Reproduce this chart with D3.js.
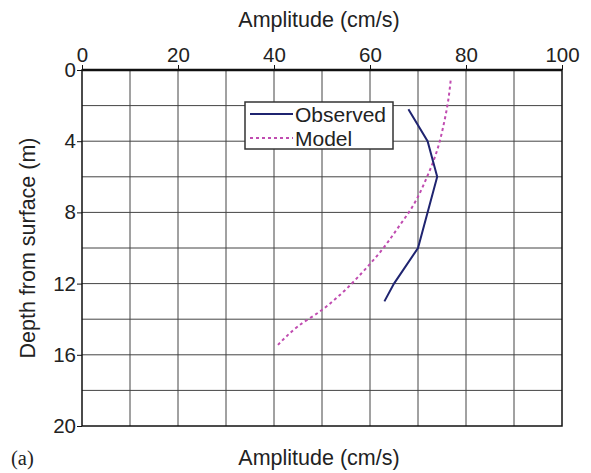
<!DOCTYPE html>
<html>
<head>
<meta charset="utf-8">
<script src="https://cdn.jsdelivr.net/npm/d3@7"></script>
<style>
  body { margin: 0; background: #fff; }
  text { font-family: "Liberation Sans", Arial, sans-serif; fill: #222; }
</style>
</head>
<body>
<svg id="chart"></svg>
<script>
const width = 591;
const height = 473;

// amplitude (cm/s) vs depth (m)
const observedAmp = [68, 72, 74, 70, 65, 63];
const observedDepth = [2.2, 4, 6, 10, 12, 13];
const modelAmp = [76.8, 76.3, 75.4, 74, 71.9, 68.8, 66, 62.5, 58.3, 54.1, 49.9, 45, 40.8];
const modelDepth = [0.6, 1.7, 3.0, 4.5, 6, 7.7, 8.8, 10.1, 11.4, 12.55, 13.5, 14.4, 15.45];
const xTicks = [0, 20, 40, 60, 80, 100];
const yTicks = [0, 4, 8, 12, 16, 20];
const seriesNames = ["Observed", "Model"];

const svg = d3.select("#chart").attr("width", width).attr("height", height);

const x = d3.scaleLinear().domain([0, 100]).range([82, 562]);
const y = d3.scaleLinear().domain([0, 20]).range([70, 426]);

// grid
const grid = svg.append("g");
grid.selectAll(".vg")
  .data(d3.range(10, 100, 10))
  .enter().append("line")
  .attr("x1", d => x(d)).attr("x2", d => x(d))
  .attr("y1", y(0)).attr("y2", y(20))
  .attr("stroke", "#444").attr("stroke-width", 1);
grid.selectAll(".hg")
  .data(d3.range(2, 20, 2))
  .enter().append("line")
  .attr("x1", x(0)).attr("x2", x(100))
  .attr("y1", d => y(d)).attr("y2", d => y(d))
  .attr("stroke", "#444").attr("stroke-width", 1);

// frame
svg.append("rect")
  .attr("x", x(0)).attr("y", y(0))
  .attr("width", x(100) - x(0)).attr("height", y(20) - y(0))
  .attr("fill", "none").attr("stroke", "#111").attr("stroke-width", 1.5);
svg.append("line")
  .attr("x1", x(0)).attr("x2", x(100)).attr("y1", y(0)).attr("y2", y(0))
  .attr("stroke", "#111").attr("stroke-width", 2.5);

// axes
const topAxis = svg.append("g")
  .attr("transform", `translate(0,${y(0)})`)
  .call(d3.axisTop(x).tickValues(xTicks).tickSize(5).tickPadding(3));
const leftAxis = svg.append("g")
  .attr("transform", `translate(${x(0)},0)`)
  .call(d3.axisLeft(y).tickValues(yTicks).tickSize(5).tickPadding(1));
[topAxis, leftAxis].forEach(a => {
  a.select(".domain").remove();
  a.selectAll("line").attr("stroke", "#111");
  a.selectAll("text").style("font-family", "Liberation Sans, Arial, sans-serif")
    .style("font-size", "20.5px").attr("fill", "#222");
});

// series
const line = d3.line().x(d => x(d[0])).y(d => y(d[1]));
const observed = observedAmp.map((a, i) => [a, observedDepth[i]]);
const model = modelAmp.map((a, i) => [a, modelDepth[i]]);

svg.append("path").datum(model)
  .attr("d", line.curve(d3.curveMonotoneY))
  .attr("fill", "none").attr("stroke", "#c04cb0")
  .attr("stroke-width", 2).attr("stroke-dasharray", "3,3");
svg.append("path").datum(observed)
  .attr("d", d3.line().x(d => x(d[0])).y(d => y(d[1])))
  .attr("fill", "none").attr("stroke", "#1f2470").attr("stroke-width", 2);

// legend
const legend = svg.append("g");
legend.append("rect")
  .attr("x", 245).attr("y", 102).attr("width", 148).attr("height", 47)
  .attr("fill", "#fff").attr("stroke", "#333").attr("stroke-width", 1.5);
const styles = [
  { color: "#1f2470", dash: null },
  { color: "#c04cb0", dash: "3,3" }
];
seriesNames.forEach((name, i) => {
  const cy = 114 + i * 24;
  legend.append("line")
    .attr("x1", 250).attr("x2", 293).attr("y1", cy).attr("y2", cy)
    .attr("stroke", styles[i].color).attr("stroke-width", 2)
    .attr("stroke-dasharray", styles[i].dash);
  legend.append("text")
    .attr("x", 295).attr("y", cy + 7.5)
    .style("font-size", "21px").text(name);
});

// titles
svg.append("text").attr("x", 319).attr("y", 27)
  .attr("text-anchor", "middle").style("font-size", "21.5px").text("Amplitude (cm/s)");
svg.append("text").attr("x", 319).attr("y", 465)
  .attr("text-anchor", "middle").style("font-size", "21.5px").text("Amplitude (cm/s)");
svg.append("text")
  .attr("transform", `translate(35,${(y(0) + y(20)) / 2}) rotate(-90)`)
  .attr("text-anchor", "middle").style("font-size", "21.5px").text("Depth from surface (m)");
svg.append("text").attr("x", 11).attr("y", 465)
  .style("font-family", "Liberation Serif, Times New Roman, serif")
  .style("font-size", "20.5px").text("(a)");
</script>
</body>
</html>
